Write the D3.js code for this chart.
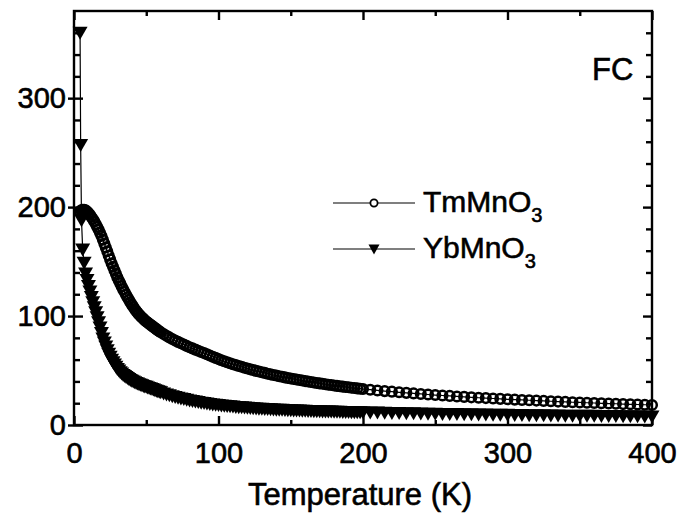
<!DOCTYPE html>
<html>
<head>
<meta charset="utf-8">
<script src="https://d3js.org/d3.v7.min.js"></script>
<style>
  body { margin: 0; background: #fff; }
  svg { display: block; }
  text { font-family: "Liberation Sans", Arial, Helvetica, sans-serif; fill: #000; stroke: #000; stroke-width: 0.6px; }
</style>
</head>
<body>
<svg id="chart" width="684" height="525"></svg>
<script>
// measurement temperatures (K), shared by both compounds
var temps = [4,5,6,7,8,9,10,11,12,13,14,15,16,17,18,19,20,21,22,23,24,25,26,27,28,29,30,31,32,
	33,34,35,36,37,38,39,40,41,42,43,44,45,46,47,48,49,50,51,52,53,54,55,56,57,58,59,60,
	62,64,66,68,70,72,74,76,78,80,
	82,84,86,88,90,92,94,96,98,100,102,104,106,108,110,112,114,116,118,120,
	122,124,126,128,130,132,134,136,138,140,142,144,146,148,150,152,154,156,158,160,
	162,164,166,168,170,172,174,176,178,180,182,184,186,188,190,192,194,196,198,200,
	205,210,215,220,225,230,235,240,245,250,255,260,265,270,275,280,285,290,295,300,
	305,310,315,320,325,330,335,340,345,350,355,360,365,370,375,380,385,390,395,400];

// TmMnO3, one value per entry of temps
var tmMnO3 = [196,197,197.5,197.5,197,196,194.5,193,191,189,187,184.5,182,179.5,176.5,173.5,170,166.5,163,159.5,
	155.5,152,148.5,145.2,142,138.7,135.5,132.7,130,127.2,124.5,122,119.5,117.2,115,112.7,110.5,108.5,106.5,104.7,
	103,101.5,100,98.7,97.5,96.2,95,94,93,92,91,90,89,88,87,86.1,85.2,
	83.5,81.9,80.4,79,77.6,76.3,75,73.8,72.6,71.4,
	70.3,69.2,68.1,67,66,64.9,63.8,62.7,61.6,60.5,59.5,58.5,57.6,56.7,55.8,55.0,54.2,53.4,52.6,51.9,
	51.1,50.4,49.7,49.1,48.4,47.8,47.1,46.5,45.9,45.4,44.8,44.3,43.7,43.2,42.7,42.2,41.7,41.3,40.8,40.3,
	39.9,39.5,39.0,38.6,38.2,37.8,37.4,37.0,36.7,36.3,35.9,35.6,35.2,34.9,34.6,34.2,33.9,33.6,33.3,33.0,
	32.4,31.7,31.1,30.6,30.0,29.5,29.0,28.5,28.0,27.5,27.1,26.7,26.2,25.8,25.4,25.0,24.7,24.3,24.0,23.6,
	23.3,23.0,22.7,22.4,22.1,21.8,21.5,21.2,20.9,20.7,20.4,20.2,19.9,19.7,19.5,19.2,19.0,18.8,18.6,18.4];

// YbMnO3: a few points below 6 K, then the temps grid from 6 K on
var ybStartTemps = [4.2, 4.6, 5.2];
var ybStartValues = [360, 257, 188];
var ybMnO3 = [161,149,139,133,127.5,122.5,117.5,112.7,108,103.5,99,94.3,89.5,84.5,79.5,75.7,72,68.7,65.5,62.7,
	60,57.7,55.5,53.5,51.5,50,48.5,47.2,46,45,44,43.1,42.2,41.4,40.6,39.9,39.2,38.6,38,37.4,
	36.9,36.4,35.9,35.4,35,34.5,34,33.5,33,32.5,32,31.5,31,30.5,30,
	29.0,28.1,27.3,26.5,25.8,25.1,24.4,23.8,23.2,22.6,
	22.0,21.5,21.0,20.5,20.1,19.7,19.3,18.9,18.6,18.3,18.0,17.7,17.4,17.1,16.9,16.6,16.4,16.2,16.0,15.8,
	15.6,15.4,15.2,15.0,14.9,14.7,14.6,14.4,14.3,14.1,14.0,13.9,13.8,13.6,13.5,13.4,13.3,13.2,13.1,13.0,
	12.9,12.8,12.7,12.7,12.6,12.5,12.4,12.4,12.3,12.2,12.1,12.1,12.0,11.9,11.9,11.8,11.8,11.7,11.6,11.6,
	11.5,11.4,11.3,11.1,11.0,10.8,10.7,10.6,10.4,10.3,10.2,10.1,10.0,9.9,9.8,9.7,9.6,9.5,9.4,9.3,
	9.2,9.1,9.0,8.9,8.9,8.8,8.7,8.6,8.6,8.5,8.4,8.4,8.3,8.2,8.2,8.1,8.0,8.0,7.9,7.9];

var xMajor = [0, 100, 200, 300, 400];
var xMinor = [50, 150, 250, 350];
var yMajor = [0, 100, 200, 300];
var yMinor = [20,40,60,80,120,140,160,180,220,240,260,280,320,340,360];

var seriesNames = ['TmMnO', 'YbMnO'];

(function() {
	var svg = d3.select('svg#chart');
	var pLeft = 74, pRight = 652, pTop = 11, pBottom = 425;

	var x = d3.scaleLinear().domain([0, 400]).range([pLeft, pRight]);
	var y = d3.scaleLinear().domain([0, 380]).range([pBottom, pTop]);

	var tmData = temps.map(function(t, i) { return [t, tmMnO3[i]]; });
	var ybData = ybStartTemps.map(function(t, i) { return [t, ybStartValues[i]]; })
		.concat(temps.slice(2).map(function(t, i) { return [t, ybMnO3[i]]; }));

	var line = d3.line().x(function(d) { return x(d[0]); }).y(function(d) { return y(d[1]); });
	var triPath = 'M-7.5,-6L7.5,-6L0,7Z';

	// YbMnO3 first, then TmMnO3 on top
	svg.append('path').datum(ybData).attr('d', line)
		.attr('fill', 'none').attr('stroke', '#000').attr('stroke-width', 1.2);
	svg.append('g').selectAll('path').data(ybData).join('path')
		.attr('d', triPath)
		.attr('transform', function(d) { return 'translate(' + x(d[0]) + ',' + y(d[1]) + ')'; })
		.attr('fill', '#000');

	svg.append('path').datum(tmData).attr('d', line)
		.attr('fill', 'none').attr('stroke', '#000').attr('stroke-width', 1.2);
	svg.append('g').selectAll('circle').data(tmData).join('circle')
		.attr('cx', function(d) { return x(d[0]); })
		.attr('cy', function(d) { return y(d[1]); })
		.attr('r', 4.8)
		.attr('fill', 'none').attr('stroke', '#000').attr('stroke-width', 2.5);

	// axes, ticks pointing inward
	function styleAxis(g) {
		g.select('.domain').remove();
		g.selectAll('line').attr('stroke', '#000').attr('stroke-width', 2.4);
		g.selectAll('text').style('font-size', '29px');
	}

	svg.append('g').attr('transform', 'translate(0,' + pBottom + ')')
		.call(d3.axisBottom(x).tickValues(xMajor).tickSize(-9).tickPadding(17).tickFormat(d3.format('d')))
		.call(styleAxis);
	svg.append('g').attr('transform', 'translate(0,' + pBottom + ')')
		.call(d3.axisBottom(x).tickValues(xMinor).tickSize(-5).tickFormat(''))
		.call(styleAxis);
	svg.append('g').attr('transform', 'translate(0,' + pTop + ')')
		.call(d3.axisTop(x).tickValues(xMajor).tickSize(-9).tickFormat(''))
		.call(styleAxis);
	svg.append('g').attr('transform', 'translate(0,' + pTop + ')')
		.call(d3.axisTop(x).tickValues(xMinor).tickSize(-5).tickFormat(''))
		.call(styleAxis);

	var yAxisG = svg.append('g').attr('transform', 'translate(' + pLeft + ',0)')
		.call(d3.axisLeft(y).tickValues(yMajor).tickSize(-9).tickPadding(8).tickFormat(d3.format('d')))
		.call(styleAxis);
	yAxisG.selectAll('line').attr('x1', -6);
	svg.append('g').attr('transform', 'translate(' + pLeft + ',0)')
		.call(d3.axisLeft(y).tickValues(yMinor).tickSize(-6).tickFormat(''))
		.call(styleAxis);
	svg.append('g').attr('transform', 'translate(' + pRight + ',0)')
		.call(d3.axisRight(y).tickValues(yMajor).tickSize(-9).tickFormat(''))
		.call(styleAxis);
	svg.append('g').attr('transform', 'translate(' + pRight + ',0)')
		.call(d3.axisRight(y).tickValues(yMinor).tickSize(-6).tickFormat(''))
		.call(styleAxis);

	// frame
	svg.append('rect')
		.attr('x', pLeft).attr('y', pTop)
		.attr('width', pRight - pLeft).attr('height', pBottom - pTop)
		.attr('fill', 'none').attr('stroke', '#000').attr('stroke-width', 2.4);

	svg.append('text')
		.attr('x', 360).attr('y', 505)
		.attr('text-anchor', 'middle')
		.style('font-size', '31px')
		.text('Temperature (K)');

	svg.append('text')
		.attr('x', 592).attr('y', 80)
		.style('font-size', '31px')
		.text('FC');

	// legend
	var rows = svg.append('g').selectAll('g').data(seriesNames).join('g')
		.attr('transform', function(d, i) { return 'translate(0,' + (203 + i * 46) + ')'; });
	rows.append('line')
		.attr('x1', 333).attr('x2', 415)
		.attr('stroke', '#000').attr('stroke-width', 1.2);
	rows.filter(function(d, i) { return i === 0; }).append('circle')
		.attr('cx', 374).attr('r', 3.6)
		.attr('fill', '#fff').attr('stroke', '#000').attr('stroke-width', 1.8);
	rows.filter(function(d, i) { return i === 1; }).append('path')
		.attr('d', 'M-5.5,-4.5L5.5,-4.5L0,5.5Z')
		.attr('transform', 'translate(374,0)')
		.attr('fill', '#000');
	var lt = rows.append('text')
		.attr('x', 423).attr('y', 9)
		.style('font-size', '30px');
	lt.append('tspan').text(function(d) { return d; });
	lt.append('tspan').attr('dy', 10).style('font-size', '20px').text('3');
})();
</script>
</body>
</html>
